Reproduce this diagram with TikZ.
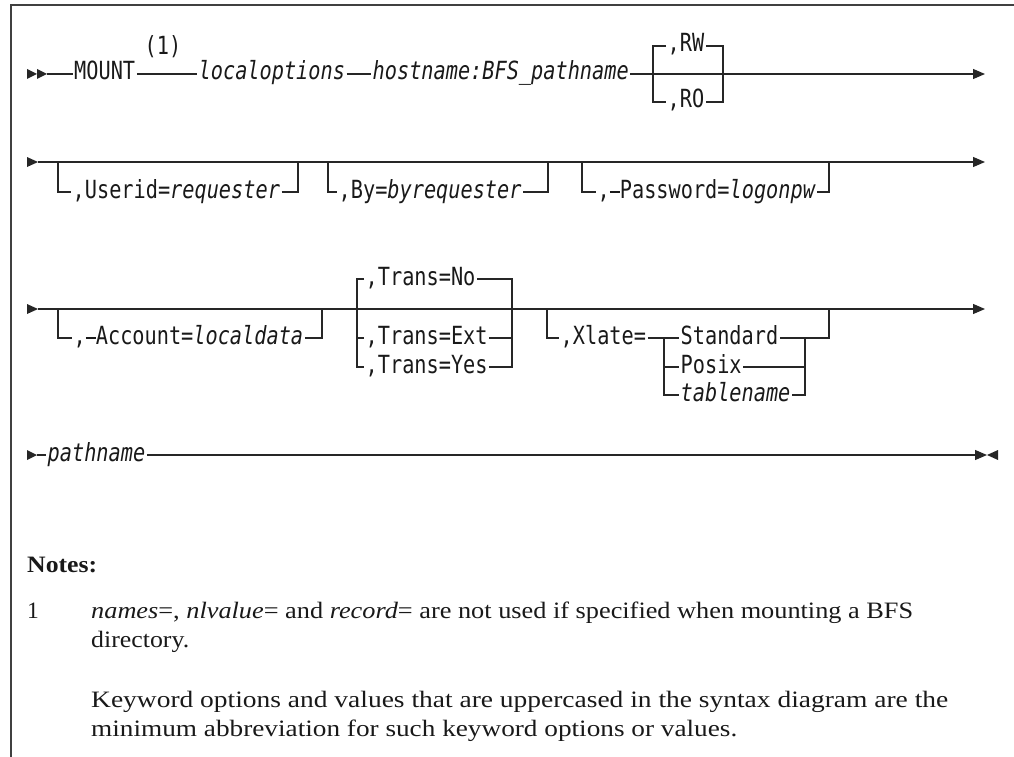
\documentclass[tikz,border=0pt]{standalone}
\usepackage{fontspec}
\usepackage{graphicx}
\usetikzlibrary{arrows.meta}
\newfontfamily\dmono[FakeStretch=0.81]{DejaVu Sans Mono}
\newfontfamily\nserif{Liberation Serif}
\newcommand\rdash{\rule[5.4pt]{10pt}{1.2pt}}
\tikzset{
  rr/.style={line width=1.2pt, draw=black!85},
  frame/.style={line width=2pt, draw=black!75},
  tx/.style={font=\dmono\fontsize{25}{27}\selectfont, text=black!90, inner xsep=1.5pt, inner ysep=0pt,
             text height=16pt, text depth=4pt, anchor=west},
  nt/.style={font=\nserif\fontsize{23.5}{28}\selectfont, text=black!90, inner sep=0pt, anchor=base west},
  endarrow/.style={-{Triangle[length=12pt,width=10pt]}},
  tipfill/.style={fill=black!85},
}
\begin{document}
\begin{tikzpicture}[x=1pt,y=-1pt]
\useasboundingbox (0,0) rectangle (1014,757);
% frame
\draw[frame] (11,757) -- (11,5.5) -- (1014,5.5);

% ---------- row 1 ----------
\fill[tipfill] (27,69) -- (37,74) -- (27,79) -- cycle;
\fill[tipfill] (37,69) -- (47,74) -- (37,79) -- cycle;
\coordinate (s1) at (47,74);
\coordinate (e1) at (985,74);
\node[tx] (mount) at (72.5,74) {MOUNT};
\node[tx,anchor=base] (n1) at (163,55) {(1)};
\node[tx] (lopt) at (197,74) {\itshape localoptions};
\node[tx] (host) at (371,74) {\itshape hostname:BFS\_pathname};
\node[tx] (rw) at (666,46) {,RW};
\node[tx] (ro) at (666,102) {,RO};
\coordinate (b1a) at (653,46);
\coordinate (b1b) at (653,102);
\coordinate (b1c) at (723,46);
\coordinate (b1d) at (723,102);
\draw[rr] (s1) -- (mount.west);
\draw[rr] (mount.east) -- (lopt.west);
\draw[rr] (lopt.east) -- (host.west);
\draw[rr,endarrow] (host.east) -- (e1);
\draw[rr] (rw.west) -- (b1a) -- (b1b) -- (ro.west);
\draw[rr] (rw.east) -- (b1c) -- (b1d) -- (ro.east);

% ---------- row 2 ----------
\fill[tipfill] (27,157) -- (38,162) -- (27,167) -- cycle;
\coordinate (s2) at (38,162);
\coordinate (e2) at (985,162);
\draw[rr,endarrow] (s2) -- (e2);
\node[tx] (uid) at (71,192) {,Userid=\textit{requester}};
\coordinate (u1) at (58,162);
\coordinate (u2) at (58,192);
\coordinate (u3) at (298,192);
\coordinate (u4) at (298,162);
\draw[rr] (u1) -- (u2) -- (uid.west);
\draw[rr] (uid.east) -- (u3) -- (u4);
\node[tx] (by) at (337,192) {,By=\textit{byrequester}};
\coordinate (y1) at (328,162);
\coordinate (y2) at (328,192);
\coordinate (y3) at (548,192);
\coordinate (y4) at (548,162);
\draw[rr] (y1) -- (y2) -- (by.west);
\draw[rr] (by.east) -- (y3) -- (y4);
\node[tx] (pw) at (596,192) {,\rdash Password=\textit{logonpw}};
\coordinate (p1) at (582,162);
\coordinate (p2) at (582,192);
\coordinate (p3) at (829,192);
\coordinate (p4) at (829,162);
\draw[rr] (p1) -- (p2) -- (pw.west);
\draw[rr] (pw.east) -- (p3) -- (p4);

% ---------- row 3 ----------
\fill[tipfill] (27,304) -- (38,309) -- (27,314) -- cycle;
\coordinate (s3) at (38,309);
\coordinate (e3) at (985,309);
\draw[rr,endarrow] (s3) -- (e3);
\node[tx] (acc) at (72,338) {,\rdash Account=\textit{localdata}};
\coordinate (a1) at (58,309);
\coordinate (a2) at (58,338);
\coordinate (a3) at (322,338);
\coordinate (a4) at (322,309);
\draw[rr] (a1) -- (a2) -- (acc.west);
\draw[rr] (acc.east) -- (a3) -- (a4);
\node[tx] (tno) at (364,279) {,Trans=No};
\node[tx] (text) at (364,338) {,Trans=Ext};
\node[tx] (tyes) at (364,367) {,Trans=Yes};
\coordinate (t1) at (357,279);
\coordinate (t2) at (357,338);
\coordinate (t3) at (357,367);
\coordinate (t4) at (512,279);
\coordinate (t5) at (512,338);
\coordinate (t6) at (512,367);
\draw[rr] (tno.west) -- (t1) -- (t3) -- (tyes.west);
\draw[rr] (t2) -- (text.west);
\draw[rr] (tno.east) -- (t4) -- (t6) -- (tyes.east);
\draw[rr] (text.east) -- (t5);
\node[tx] (xl) at (559,338) {,Xlate=};
\node[tx] (std) at (679,338) {Standard};
\node[tx] (posix) at (679,367) {Posix};
\node[tx] (tbl) at (679,395) {\itshape tablename};
\coordinate (x1) at (547,309);
\coordinate (x2) at (547,338);
\coordinate (x4) at (829,338);
\coordinate (x5) at (829,309);
\coordinate (i1) at (664,338);
\coordinate (i2) at (664,395);
\coordinate (i3) at (664,367);
\coordinate (i4) at (805,367);
\coordinate (i5) at (805,395);
\coordinate (i6) at (805,338);
\draw[rr] (x1) -- (x2) -- (xl.west);
\draw[rr] (xl.east) -- (std.west);
\draw[rr] (i1) -- (i2) -- (tbl.west);
\draw[rr] (i3) -- (posix.west);
\draw[rr] (std.east) -- (x4) -- (x5);
\draw[rr] (posix.east) -- (i4);
\draw[rr] (tbl.east) -- (i5) -- (i6);

% ---------- row 4 ----------
\fill[tipfill] (27,450) -- (37,455) -- (27,460) -- cycle;
\coordinate (s4) at (37,455);
\coordinate (e4) at (987,455);
\node[tx] (path) at (46,455) {\itshape pathname};
\draw[rr] (s4) -- (path.west);
\draw[rr,endarrow] (path.east) -- (e4);
\fill[tipfill] (998,450) -- (987,455) -- (998,460) -- cycle;

% ---------- notes ----------
\node[nt] (notes) at (27,572) {\resizebox{70pt}{\height}{\bfseries Notes:}};
\node[nt] (one) at (27,618) {1};
\node[nt] (l1) at (91,618) {\resizebox{822pt}{\height}{\textit{names}=, \textit{nlvalue}= and \textit{record}= are not used if specified when mounting a BFS}};
\node[nt] (l2) at (91,647) {\resizebox{98pt}{\height}{directory.}};
\node[nt] (l3) at (91,707) {\resizebox{857pt}{\height}{Keyword options and values that are uppercased in the syntax diagram are the}};
\node[nt] (l4) at (91,736) {\resizebox{646pt}{\height}{minimum abbreviation for such keyword options or values.}};
\end{tikzpicture}
\end{document}
